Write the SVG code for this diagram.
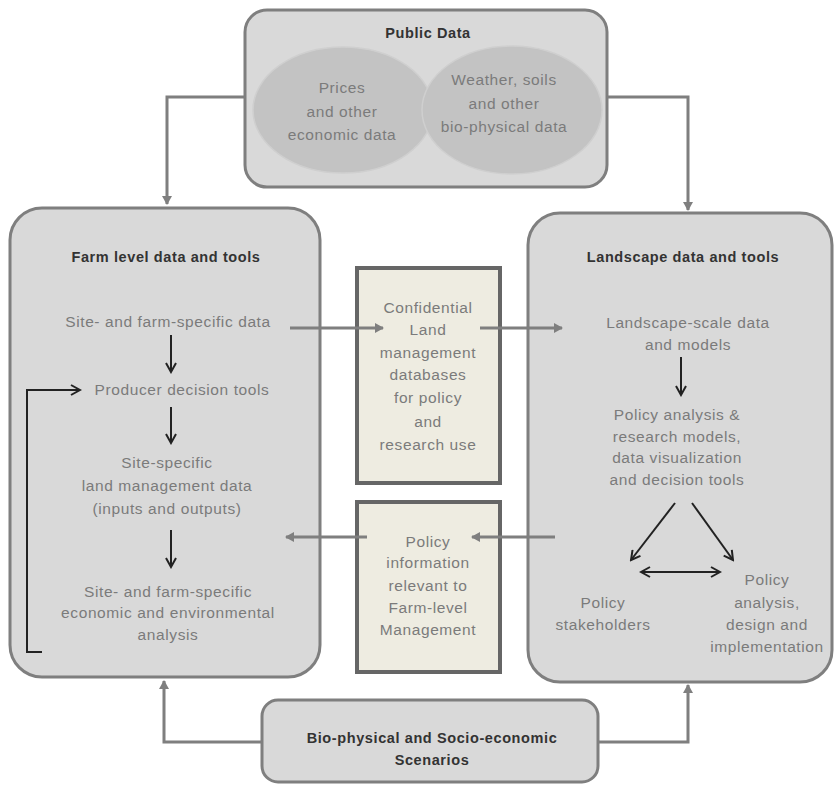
<svg xmlns="http://www.w3.org/2000/svg" width="834" height="785" viewBox="0 0 834 785">
<defs>
<style>
.panel{fill:#d9d9d9;stroke:#7f7f7f;stroke-width:3}
.ell{fill:#c3c3c3;stroke:#cfcfcf;stroke-width:1.5}
.cbox{fill:#eeece1;stroke:#666;stroke-width:4}
.t{font-family:"Liberation Sans",Arial,sans-serif;font-size:15.5px;letter-spacing:0.6px;fill:#7b7b7b;text-anchor:middle}
.h{font-family:"Liberation Sans",Arial,sans-serif;font-size:14.5px;letter-spacing:0.6px;font-weight:bold;fill:#333;text-anchor:middle}
.g{stroke:#7f7f7f;stroke-width:3;fill:none}
.k{stroke:#222;stroke-width:2;fill:none}
</style>
<marker id="ag" markerWidth="10" markerHeight="10" refX="8" refY="5" orient="auto" markerUnits="userSpaceOnUse"><path d="M0,0 L9,5 L0,10 Z" fill="#7f7f7f"/></marker>
<marker id="ak" markerWidth="12" markerHeight="12" refX="10" refY="6" orient="auto-start-reverse" markerUnits="userSpaceOnUse"><path d="M1,1 L10,6 L1,11" fill="none" stroke="#222" stroke-width="2"/></marker>
</defs>
<rect width="834" height="785" fill="#fff"/>

<g id="public-data">
<rect class="panel" x="245" y="10" width="362" height="177" rx="22"/>
<text class="h" x="428" y="38">Public Data</text>
<ellipse class="ell" cx="343" cy="110" rx="90" ry="63"/>
<ellipse class="ell" cx="512" cy="110" rx="90" ry="64"/>
<text class="t" x="342" y="93">Prices</text>
<text class="t" x="342" y="117">and other</text>
<text class="t" x="342" y="140">economic data</text>
<text class="t" x="504" y="85">Weather, soils</text>
<text class="t" x="504" y="109">and other</text>
<text class="t" x="504" y="132">bio-physical data</text>
</g>

<g id="farm-level">
<rect class="panel" x="10" y="208" width="310" height="469" rx="32"/>
<text class="h" x="166" y="262">Farm level data and tools</text>
<text class="t" x="168" y="327">Site- and farm-specific data</text>
<text class="t" x="182" y="395">Producer decision tools</text>
<text class="t" x="167" y="468">Site-specific</text>
<text class="t" x="167" y="491">land management data</text>
<text class="t" x="167" y="514">(inputs and outputs)</text>
<text class="t" x="168" y="597">Site- and farm-specific</text>
<text class="t" x="168" y="618">economic and environmental</text>
<text class="t" x="168" y="640">analysis</text>
<path class="k" d="M171,335 V372" marker-end="url(#ak)"/>
<path class="k" d="M171,407 V443" marker-end="url(#ak)"/>
<path class="k" d="M171,530 V567" marker-end="url(#ak)"/>
<path class="k" d="M42,652 H27 V390 H80" marker-end="url(#ak)"/>
</g>

<g id="landscape">
<rect class="panel" x="528" y="213" width="304" height="469" rx="32"/>
<text class="h" x="683" y="262">Landscape data and tools</text>
<text class="t" x="688" y="328">Landscape-scale data</text>
<text class="t" x="688" y="350">and models</text>
<text class="t" x="677" y="420">Policy analysis &amp;</text>
<text class="t" x="677" y="442">research models,</text>
<text class="t" x="677" y="463">data visualization</text>
<text class="t" x="677" y="485">and decision tools</text>
<text class="t" x="603" y="608">Policy</text>
<text class="t" x="603" y="630">stakeholders</text>
<text class="t" x="767" y="585">Policy</text>
<text class="t" x="767" y="608">analysis,</text>
<text class="t" x="767" y="630">design and</text>
<text class="t" x="767" y="652">implementation</text>
<path class="k" d="M681,357 V395" marker-end="url(#ak)"/>
<path class="k" d="M675,503 L631,560" marker-end="url(#ak)"/>
<path class="k" d="M692,503 L733,560" marker-end="url(#ak)"/>
<path class="k" d="M641,572 H720" marker-start="url(#ak)" marker-end="url(#ak)"/>
</g>

<g id="confidential">
<rect class="cbox" x="357" y="268" width="143" height="215"/>
<text class="t" x="428" y="313">Confidential</text>
<text class="t" x="428" y="335">Land</text>
<text class="t" x="428" y="358">management</text>
<text class="t" x="428" y="380">databases</text>
<text class="t" x="428" y="403">for policy</text>
<text class="t" x="428" y="427">and</text>
<text class="t" x="428" y="450">research use</text>
</g>

<g id="policy-info">
<rect class="cbox" x="357" y="502" width="143" height="170"/>
<text class="t" x="428" y="547">Policy</text>
<text class="t" x="428" y="568">information</text>
<text class="t" x="428" y="591">relevant to</text>
<text class="t" x="428" y="613">Farm-level</text>
<text class="t" x="428" y="635">Management</text>
</g>

<g id="scenarios">
<rect class="panel" x="262" y="700" width="336" height="82" rx="16"/>
<text class="h" x="432" y="743">Bio-physical and Socio-economic</text>
<text class="h" x="432" y="765">Scenarios</text>
</g>

<g id="connectors">
<path class="g" d="M245,97 H167 V204" marker-end="url(#ag)"/>
<path class="g" d="M607,97 H688 V210" marker-end="url(#ag)"/>
<path class="g" d="M290,328 H383" marker-end="url(#ag)"/>
<path class="g" d="M480,328 H562" marker-end="url(#ag)"/>
<path class="g" d="M555,537 H472" marker-end="url(#ag)"/>
<path class="g" d="M367,537 H286" marker-end="url(#ag)"/>
<path class="g" d="M262,742 H164 V681" marker-end="url(#ag)"/>
<path class="g" d="M598,742 H688 V685" marker-end="url(#ag)"/>
</g>
</svg>
